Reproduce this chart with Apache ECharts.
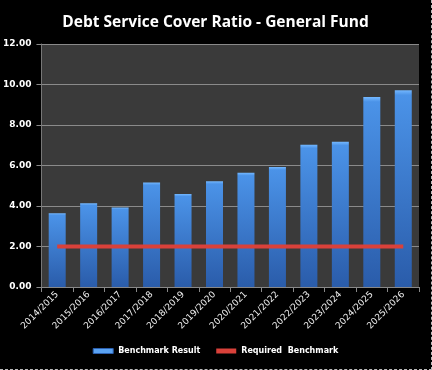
<!DOCTYPE html>
<html><head><meta charset="utf-8">
<style>html,body{margin:0;padding:0;background:#000;}#c{width:432px;height:370px;box-sizing:border-box;border-right:1px dashed #bbb;border-bottom:1px dashed #bbb;}</style>
<script src="https://cdn.jsdelivr.net/npm/echarts@6/dist/echarts.min.js"></script>
</head><body><div id="c"></div>
<script>
const categories = ['2014/2015','2015/2016','2016/2017','2017/2018','2018/2019','2019/2020','2020/2021','2021/2022','2022/2023','2023/2024','2024/2025','2025/2026'];
const benchmarkResult = [3.64, 4.13, 3.93, 5.16, 4.59, 5.22, 5.64, 5.93, 7.03, 7.17, 9.38, 9.72];
const requiredBenchmark = [2, 2, 2, 2, 2, 2, 2, 2, 2, 2, 2, 2];
const chart = echarts.init(document.getElementById('c'));
const barGrad = new echarts.graphic.LinearGradient(0,0,0,1,[{offset:0,color:'#74b8ff'},{offset:0.025,color:'#4b93e8'},{offset:1,color:'#2a5caa'}]);
chart.setOption({
  backgroundColor:'#000',
  animation:false,
  title:{text:'Debt Service Cover Ratio - General Fund',left:'center',top:10,textStyle:{color:'#fff',fontSize:15.5,fontWeight:'bold',fontFamily:'Open Sans'}},
  grid:{left:40,right:12,top:44,bottom:82,show:true,backgroundColor:'#3a3a3a',borderColor:'#777',borderWidth:0},
  legend:{bottom:9,itemGap:16,textStyle:{color:'#fff',fontSize:8,fontWeight:'bold',fontFamily:'DejaVu Sans'},itemWidth:20,itemHeight:5,
    data:[{name:'Benchmark Result',icon:'rect',itemStyle:{color:'#5aa2f2',borderColor:'#2b5fae',borderWidth:1}},{name:'Required  Benchmark',icon:'rect',itemStyle:{color:'#d9413a'}}]},
  xAxis:{type:'category',data:categories,boundaryGap:true,
    axisLine:{lineStyle:{color:'#888'}},axisTick:{show:true,alignWithLabel:false,lineStyle:{color:'#888'}},
    axisLabel:{color:'#eee',rotate:45,fontSize:9,fontFamily:'DejaVu Sans',interval:0,margin:6}},
  yAxis:{type:'value',min:0,max:12,interval:2,
    axisLine:{show:true,lineStyle:{color:'#777'}},axisTick:{show:true,lineStyle:{color:'#888'}},
    splitLine:{lineStyle:{color:'#8a8a8a',width:1}},
    axisLabel:{color:'#fff',fontSize:9,fontWeight:'bold',fontFamily:'DejaVu Sans',formatter:v=>v.toFixed(2),margin:10}},
  series:[
    {name:'Benchmark Result',type:'bar',data:benchmarkResult,barWidth:17,itemStyle:{color:barGrad}},
    {name:'Required  Benchmark',type:'line',data:requiredBenchmark,symbol:'none',lineStyle:{color:'#d9413a',width:4},z:5}
  ]
});
</script></body></html>
